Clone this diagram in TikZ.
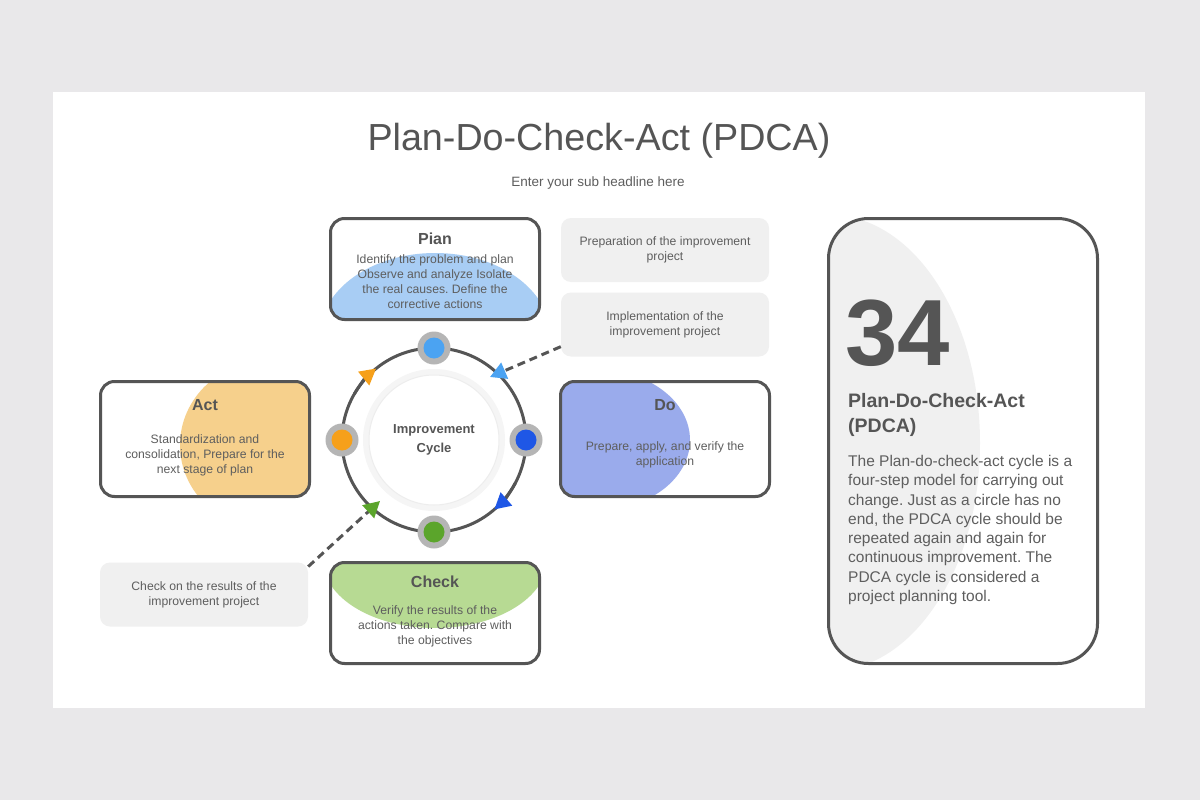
\documentclass[tikz,border=0pt]{standalone}
\usepackage{fontspec}
\setmainfont{Liberation Sans}
\usetikzlibrary{arrows.meta,calc}
\frenchspacing

\begin{document}
\begin{tikzpicture}[x=1pt,y=-1pt,
    stepbox/.style={draw=inkgray, line width=3pt, rounded corners=14pt,
        minimum width=209pt, inner sep=0pt},
    boxtitle/.style={text=inkgray, font=\bfseries\fontsize{16}{19}\selectfont},
    boxbody/.style={text=bodygray, align=center, font=\fontsize{12.2}{15}\selectfont},
    notebox/.style={fill=notegray, rounded corners=10pt, minimum width=208pt,
        minimum height=64pt, align=center, text=bodygray,
        font=\fontsize{12.2}{15}\selectfont},
    halo/.style={fill=halogray, circle, minimum size=33pt, inner sep=0pt},
    ringline/.style={draw=inkgray, line width=3pt},
    dashlink/.style={draw=inkgray, line width=3pt, dash pattern=on 8pt off 5pt}
]
    % Define slide colors
    \definecolor{pagebg}{HTML}{E9E8EA}
    \definecolor{inkgray}{HTML}{555555}
    \definecolor{bodygray}{HTML}{5E5E5E}
    \definecolor{notegray}{HTML}{F0F0F0}
    \definecolor{halogray}{HTML}{B5B5B5}
    \definecolor{planblue}{HTML}{A8CDF4}
    \definecolor{doblue}{HTML}{9AABEC}
    \definecolor{actorange}{HTML}{F6D08C}
    \definecolor{checkgreen}{HTML}{B7DA93}
    \definecolor{dotplan}{HTML}{4BA3F2}
    \definecolor{dotdo}{HTML}{1F57E6}
    \definecolor{dotcheck}{HTML}{5BA52B}
    \definecolor{dotact}{HTML}{F6A01A}

    % Page and slide
    \fill[pagebg] (0,0) rectangle (1200,800);
    \fill[white] (53,92) rectangle (1145,708);

    % Headline
    \node[text=inkgray, font=\fontsize{37.7}{44}\selectfont] (headline) at (599,141) {Plan-Do-Check-Act (PDCA)};
    \node[text=bodygray, font=\fontsize{13.5}{16}\selectfont] (subline) at (598,183) {Enter your sub headline here};

    % The four step boxes with their colour blobs
    \node[stepbox, minimum height=101pt,
        path picture={\fill[planblue] ($(path picture bounding box.center)+(0,66)$) ellipse [x radius=115, y radius=82];}]
        (plan) at (435,269) {};
    \node[stepbox, minimum height=115pt,
        path picture={\fill[doblue] ($(path picture bounding box.center)+(-67,1)$) ellipse [x radius=92, y radius=70];}]
        (do) at (665,439) {};
    \node[stepbox, minimum height=115pt,
        path picture={\fill[actorange] ($(path picture bounding box.center)+(65,6)$) ellipse [x radius=90, y radius=85];}]
        (act) at (205,439) {};
    \node[stepbox, minimum height=101pt,
        path picture={\fill[checkgreen] ($(path picture bounding box.center)+(0,-53)$) ellipse [x radius=112, y radius=68];}]
        (check) at (435,613) {};

    \node[boxtitle] (plantitle) at ($(plan.north)+(0,22)$) {Pian};
    \node[boxbody] (planbody) at ($(plan.center)+(0,13)$) {Identify the problem and plan\\Observe and analyze Isolate\\the real causes. Define the\\corrective actions};
    \node[boxtitle] (dotitle) at ($(do.north)+(0,25)$) {Do};
    \node[boxbody] (dobody) at ($(do.center)+(0,16)$) {Prepare, apply, and verify the\\application};
    \node[boxtitle] (acttitle) at ($(act.north)+(0,25)$) {Act};
    \node[boxbody] (actbody) at ($(act.center)+(0,16)$) {Standardization and\\consolidation, Prepare for the\\next stage of plan};
    \node[boxtitle] (checktitle) at ($(check.north)+(0,21)$) {Check};
    \node[boxbody] (checkbody) at ($(check.center)+(0,13)$) {Verify the results of the\\actions taken. Compare with\\the objectives};

    % Grey notes
    \node[notebox] (prepnote) at (665,250) {Preparation of the improvement\\project};
    \node[notebox] (implnote) at (665,324.5) {Implementation of the\\improvement project};
    \node[notebox] (checknote) at (204,594.5) {Check on the results of the\\improvement project};

    % Improvement cycle
    \coordinate (ctr) at (434,440);
    \fill[black!4] (ctr) circle (71);
    \filldraw[fill=white, draw=black!7, line width=1pt] (ctr) circle (65);
    \node[text=inkgray, align=center, font=\bfseries\fontsize{13}{19}\selectfont] (cycle) at (ctr) {Improvement\\Cycle};
    \draw[ringline] (ctr) circle (92);

    % Arrow tips running clockwise round the ring
    \draw[ringline, -{Triangle[length=16pt, width=17pt, color=dotact]}]
        (ctr) ++(210:92) arc[start angle=210, end angle=231, radius=92];
    \draw[ringline, -{Triangle[length=16pt, width=17pt, color=dotdo]}]
        (ctr) ++(28:92) arc[start angle=28, end angle=49, radius=92];

    % Step dots on the ring
    \foreach \name/\ang/\col in {pdot/270/dotplan, ddot/0/dotdo, cdot/90/dotcheck, adot/180/dotact} {
        \node[halo] (\name) at ($(ctr)+(\ang:92)$) {};
        \fill[\col] (\name) circle (10.5);
    }

    % Dashed links from the notes
    \coordinate (ne) at (490,377);
    \coordinate (sw) at (380,501);
    \draw[dashlink, -{Triangle[length=16pt, width=17pt, color=dotplan]}] (implnote.192) -- (ne);
    \draw[dashlink, -{Triangle[length=16pt, width=17pt, color=dotcheck]}] (checknote.15) -- (sw);

    % Summary card
    \node[draw=inkgray, line width=3pt, rounded corners=40pt, minimum width=269pt,
        minimum height=445pt, inner sep=0pt,
        path picture={\fill[notegray] ($(path picture bounding box.center)+(-133,2)$) ellipse [x radius=150, y radius=228];}]
        (card) at (963,441) {};
    \node[anchor=base west, inner sep=0pt, text=inkgray, font=\bfseries\fontsize{94}{100}\selectfont] (bignum) at (845,365) {34};
    \node[anchor=north west, inner sep=0pt, align=left, text=inkgray, font=\bfseries\fontsize{19.5}{25}\selectfont] (cardhead) at (848,393) {Plan-Do-Check-Act\\(PDCA)};
    \node[anchor=north west, inner sep=0pt, align=left, text=bodygray, font=\fontsize{15.5}{19.3}\selectfont] (cardbody) at (848,455) {The Plan-do-check-act cycle is a\\four-step model for carrying out\\change. Just as a circle has no\\end, the PDCA cycle should be\\repeated again and again for\\continuous improvement. The\\PDCA cycle is considered a\\project planning tool.};
\end{tikzpicture}
\end{document}
